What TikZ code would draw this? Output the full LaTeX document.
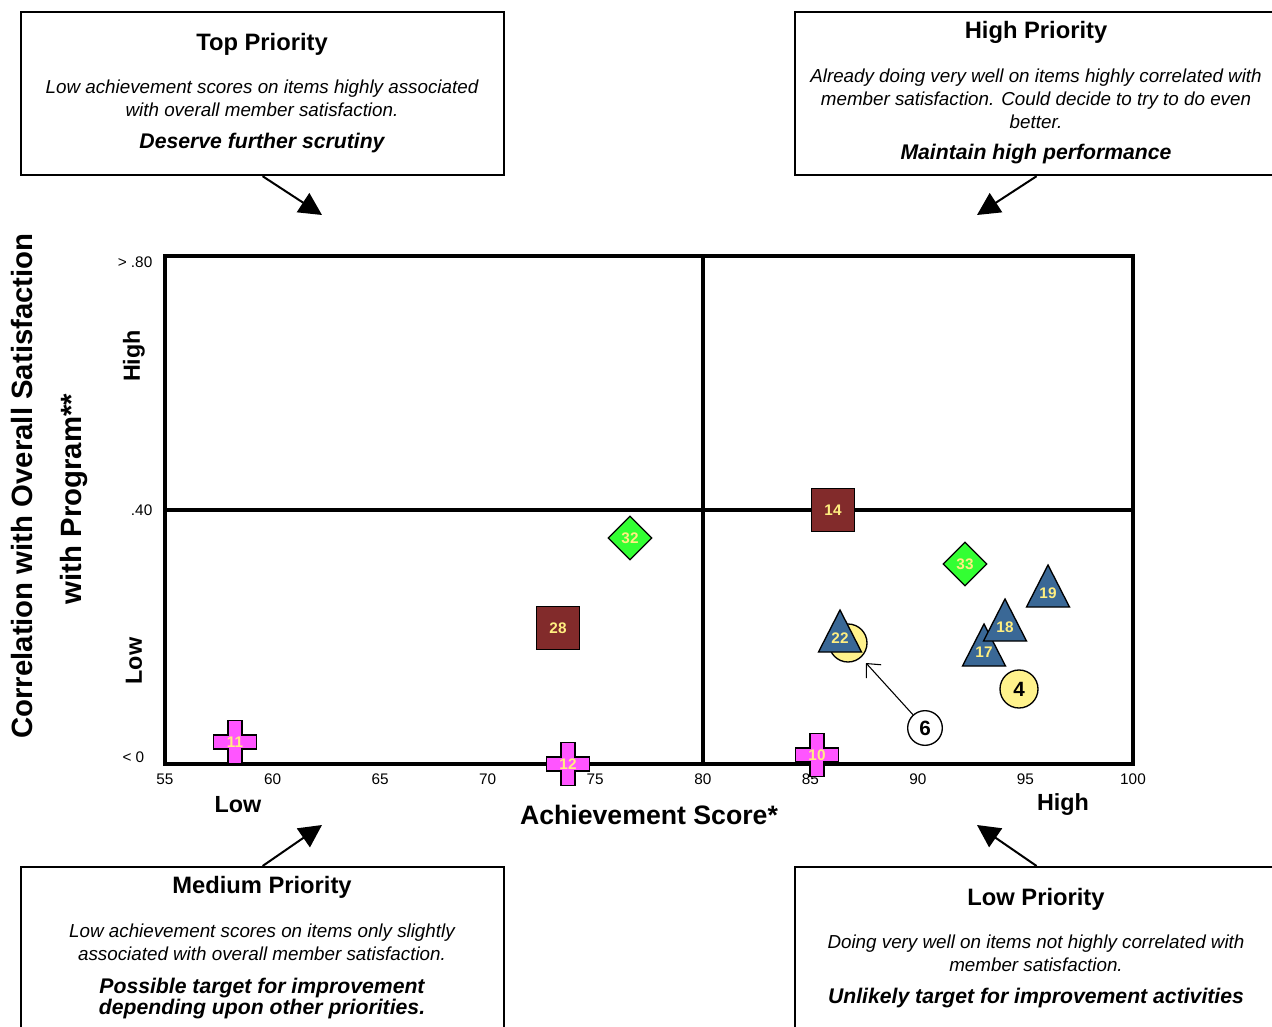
\documentclass[tikz,border=0pt]{standalone}
\usepackage{fontspec}
\setmainfont{Liberation Sans}
\usetikzlibrary{arrows.meta,shapes.geometric,calc}
\definecolor{mred}{HTML}{822B2B}
\definecolor{mgreen}{HTML}{33FF33}
\definecolor{mblue}{HTML}{3A6896}
\definecolor{myel}{HTML}{FFF28C}
\definecolor{mtxt}{HTML}{FFEE80}
\definecolor{mmag}{HTML}{FF55FF}
\newcommand\mkcross[4]{%
  \draw[mk, fill=mmag] (#2,#3) ++(-7,-21.5) -- ++(14,0) -- ++(0,14.5) -- ++(14.5,0) -- ++(0,14) -- ++(-14.5,0) -- ++(0,14.5) -- ++(-14,0) -- ++(0,-14.5) -- ++(-14.5,0) -- ++(0,-14) -- ++(14.5,0) -- cycle;
  \node[mnum] (#1) at (#2,#3) {#4};}
\newcommand\mktri[4]{%
  \draw[mk, fill=mblue] (#2,#3) -- ++(21.5,42) -- ++(-43,0) -- cycle;
  \node[mnum] (#1) at ($(#2,#3)+(0,28.5)$) {#4};}
\begin{document}
\begin{tikzpicture}[x=0.75pt,y=-0.75pt,
  box/.style={draw, line width=1.4pt, fill=white, anchor=north west, inner sep=0pt},
  ttl/.style={font=\fontsize{17.8}{20}\selectfont\bfseries},
  body/.style={font=\fontsize{14.1}{17.1}\selectfont\itshape, align=center},
  emphtxt/.style={font=\fontsize{15.9}{16}\selectfont\bfseries\itshape, align=center},
  bigarrow/.style={line width=1.5pt, -{Triangle[length=17pt,width=17pt]}},
  frame/.style={line width=2.6pt},
  tick/.style={font=\fontsize{11.5}{13}\selectfont},
  axlab/.style={font=\fontsize{17.5}{20}\selectfont\bfseries},
  axtitle/.style={font=\fontsize{20}{24}\selectfont\bfseries},
  ytitle/.style={font=\fontsize{22}{24}\selectfont\bfseries, rotate=90},
  mk/.style={draw=black, line width=1pt},
  mnum/.style={font=\fontsize{11.5}{13}\selectfont\bfseries, text=mtxt, inner sep=0pt},
  sq/.style={mk, fill=mred, minimum size=32pt, inner sep=0pt, font=\fontsize{11.5}{13}\selectfont\bfseries, text=mtxt},
  dia/.style={mk, fill=mgreen, diamond, minimum size=33pt, inner sep=0pt, font=\fontsize{11.5}{13}\selectfont\bfseries, text=mtxt},
  circ/.style={circle, draw=black, line width=1pt, minimum size=28.5pt, inner sep=0pt, font=\fontsize{15.5}{17}\selectfont\bfseries}
]
\useasboundingbox (0,0) rectangle (1272,1027);
\clip (0,0) rectangle (1272,1027);
\fill[white] (0,0) rectangle (1272,1027);

% quadrant boxes
\node[box, minimum width=362.5pt, minimum height=122.5pt] (bTL) at (20,11) {};
\node[box, minimum width=362.5pt, minimum height=122.5pt] (bTR) at (794,11) {};
\node[box, minimum width=362.5pt, minimum height=135pt] (bBL) at (20,866) {};
\node[box, minimum width=362.5pt, minimum height=135pt] (bBR) at (794,866) {};

\node[ttl] (tTL) at (262,44) {Top Priority};
\node[body] (dTL) at (262,98.5) {Low achievement scores on items highly associated\\with overall member satisfaction.};
\node[emphtxt] (eTL) at (262,143) {Deserve further scrutiny};

\node[ttl] (tTR) at (1036,32) {High Priority};
\node[body] (dTR) at (1036,98.5) {Already doing very well on items highly correlated with\\member satisfaction. Could decide to try to do even\\better.};
\node[emphtxt] (eTR) at (1036,154) {Maintain high performance};

\node[ttl] (tBL) at (262,887) {Medium Priority};
\node[body] (dBL) at (262,942) {Low achievement scores on items only slightly\\associated with overall member satisfaction.};
\node[emphtxt] (eBL) at (262,998.5) {Possible target for improvement\\depending upon other priorities.};

\node[ttl] (tBR) at (1036,899) {Low Priority};
\node[body] (dBR) at (1036,953) {Doing very well on items not highly correlated with\\member satisfaction.};
\node[emphtxt] (eBR) at (1036,998) {Unlikely target for improvement activities};

% big arrows
\coordinate (aTL) at (322,215);
\coordinate (aTR) at (977,215);
\coordinate (aBL) at (322,825);
\coordinate (aBR) at (977,825);
\draw[bigarrow] (bTL.south) -- (aTL);
\draw[bigarrow] (bTR.south) -- (aTR);
\draw[bigarrow] (bBL.north) -- (aBL);
\draw[bigarrow] (bBR.north) -- (aBR);

% plot frame
\draw[frame] (165,256) rectangle (1133,764);
\draw[frame] (703,256) -- (703,764);
\draw[frame] (165,510) -- (1133,510);

% ticks
\foreach \v in {55,60,...,100}
  \node[tick] (xt\v) at ({165+(\v-55)*21.511},779) {\v};
\node[tick, anchor=east] (yt80) at (157,262) {> .80};
\node[tick, anchor=east] (yt40) at (157,510) {.40};
\node[tick, anchor=east] (yt0) at (149,757) {< 0};

% axis labels
\node[axlab] (xlow) at (238,805) {Low};
\node[axlab] (xhigh) at (1063,805) {High};
\node[axtitle] (xtitle) at (649,815) {Achievement Score*};
\node[axlab, rotate=90] (yhigh) at (134,356) {High};
\node[axlab, rotate=90] (ylow) at (134,661) {Low};
\node[ytitle] (ytitle1) at (22,486) {Correlation with Overall Satisfaction};
\node[ytitle] (ytitle2) at (74,499) {with Program**};

% markers
\node[sq] (m14) at (833,510) {14};
\node[sq] (m28) at (558,628) {28};
\node[dia] (m32) at (630,538) {32};
\node[dia] (m33) at (965,564) {33};
\node[circ, fill=myel] (m6) at (848,643) {};
\mktri{m22}{840}{610}{22}
\mktri{m19}{1048}{565}{19}
\mktri{m17}{984}{624}{17}
\mktri{m18}{1005}{599}{18}
\node[circ, fill=myel] (m4) at (1019,689) {4};
\node[circ, fill=white, minimum size=26pt] (c6) at (925,728) {6};
\coordinate (p6) at (866,663);
\draw[line width=0.8pt, -{Straight Barb[length=8pt,width=15pt]}] (c6) -- (p6);
\mkcross{m11}{235}{742}{11}
\mkcross{m12}{568}{764}{12}
\mkcross{m10}{817}{755}{10}
\end{tikzpicture}
\end{document}
